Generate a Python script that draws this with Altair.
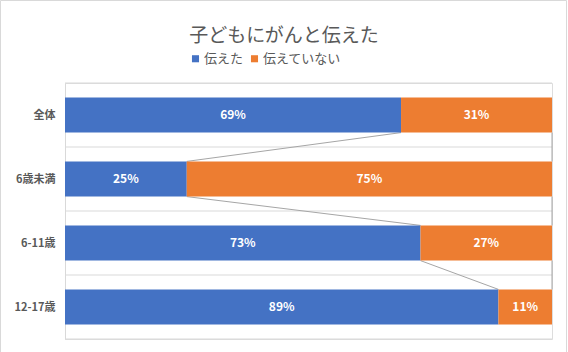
import altair as alt
import pandas as pd

title_text = "子どもにがんと伝えた"
categories = ["全体", "6歳未満", "6-11歳", "12-17歳"]
told = [69, 25, 73, 89]
not_told = [31, 75, 27, 11]
series_names = ["伝えた", "伝えていない"]
colors = ["#4472C4", "#ED7D31"]

FONT = "Noto Sans CJK JP"
HALF = 0.275

rows = []
for i, c in enumerate(categories):
    rows.append(dict(idx=i, cat=c, series=series_names[0], start=0, end=told[i], val=told[i]))
    rows.append(dict(idx=i, cat=c, series=series_names[1], start=told[i], end=told[i] + not_told[i], val=not_told[i]))
df = pd.DataFrame(rows)
df["lo"] = df["idx"] - HALF
df["hi"] = df["idx"] + HALF
df["mid"] = (df["start"] + df["end"]) / 2
df["label"] = df["val"].astype(str) + "%"

links = []
for i in range(len(categories) - 1):
    links.append(dict(xa=told[i], xb=told[i + 1], ya=i + HALF, yb=i + 1 - HALF))
    links.append(dict(xa=told[i] + not_told[i], xb=told[i + 1] + not_told[i + 1], ya=i + HALF, yb=i + 1 - HALF))
ldf = pd.DataFrame(links)

grid_df = pd.DataFrame({"g": [i - 0.5 for i in range(len(categories) + 1)]})

xscale = alt.Scale(domain=[0, 100], nice=False, zero=True)
yscale = alt.Scale(domain=[-0.5, len(categories) - 0.5], reverse=True, nice=False, zero=False)

label_expr = "[" + ",".join("'" + c + "'" for c in categories) + "][datum.value]"
yaxis = alt.Axis(values=list(range(len(categories))), labelExpr=label_expr,
                 title=None, ticks=False, grid=False, domain=True,
                 domainColor="#d9d9d9", labelFont=FONT, labelFontSize=11,
                 labelFontWeight="bold", labelColor="#595959", labelPadding=10)

frame = alt.Chart(grid_df.head(1)).mark_rect(fillOpacity=0, stroke="#d9d9d9", strokeWidth=1).encode(
    x=alt.value(-64.5), x2=alt.value(501.5), y=alt.value(-82.5), y2=alt.value(300),
)

title = alt.Chart(grid_df.head(1)).mark_text(font=FONT, fontSize=19, color="#595959",
                                             align="center", baseline="middle").encode(
    x=alt.value(219), y=alt.value(-47), text=alt.value(title_text),
)

grid = alt.Chart(grid_df).mark_rule(color="#d9d9d9", strokeWidth=1).encode(
    y=alt.Y("g:Q", scale=yscale, axis=yaxis),
)

bars = alt.Chart(df).mark_bar().encode(
    x=alt.X("start:Q", scale=xscale, axis=None),
    x2="end:Q",
    y=alt.Y("lo:Q", scale=yscale, axis=yaxis),
    y2="hi:Q",
    color=alt.Color("series:N", scale=alt.Scale(domain=series_names, range=colors),
                    legend=alt.Legend(orient="none", legendX=124, legendY=-31, direction="horizontal",
                                      title=None, symbolType="square", symbolSize=50,
                                      symbolStrokeWidth=0, labelFont=FONT, labelFontSize=13,
                                      labelColor="#595959", columnPadding=4, labelOffset=2)),
)

lines = alt.Chart(ldf).mark_rule(color="#a6a6a6", strokeWidth=1).encode(
    x=alt.X("xa:Q", scale=xscale, axis=None),
    x2="xb:Q",
    y=alt.Y("ya:Q", scale=yscale, axis=yaxis),
    y2="yb:Q",
)

texts = alt.Chart(df).mark_text(color="white", font=FONT, fontSize=12, fontWeight="bold").encode(
    x=alt.X("mid:Q", scale=xscale, axis=None),
    y=alt.Y("idx:Q", scale=yscale, axis=yaxis),
    text="label:N",
)

chart = alt.layer(frame, title, grid, lines, bars, texts).properties(
    width=487, height=256,
    padding={"left": 65, "top": 83, "right": 16, "bottom": 13},
    autosize=alt.AutoSizeParams(type="none"),
).configure_view(stroke=None).configure(background="white")

chart.save("out.html", embed_options={"renderer": "svg", "actions": False})
